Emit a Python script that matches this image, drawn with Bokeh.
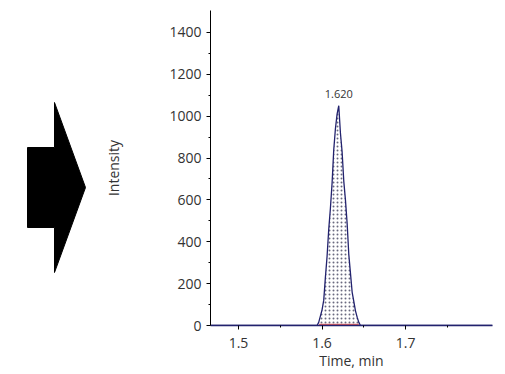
from bokeh.plotting import figure
from bokeh.layouts import row
from bokeh.models import Range1d, FixedTicker, ColumnDataSource
from bokeh.core.properties import value
from bokeh.embed import file_html
from bokeh.resources import INLINE

# chromatogram data (time in min, intensity)
times = [1.466, 1.590, 1.594, 1.596, 1.598, 1.600, 1.602, 1.604, 1.606, 1.608, 1.610,
         1.612, 1.614, 1.616, 1.618, 1.620, 1.622, 1.624, 1.626, 1.628, 1.630,
         1.632, 1.634, 1.636, 1.638, 1.640, 1.642, 1.644, 1.646, 1.650, 1.804]
intensity = [0, 0, 0, 15, 45, 75, 120, 230, 330, 460, 560,
             680, 840, 940, 1010, 1050, 920, 830, 690, 600, 490,
             340, 250, 160, 115, 70, 40, 15, 0, 0, 0]
peak_times = [1.620]
peak_heights = [1050]
peak_labels = ["1.620"]
baseline_start = [1.5965]
baseline_end = [1.6440]

x_ticks = [1.5, 1.6, 1.7]
x_minor_ticks = [1.55, 1.65, 1.75]
y_ticks = [0, 200, 400, 600, 800, 1000, 1200, 1400]
y_minor_ticks = [100, 300, 500, 700, 900, 1100, 1300]

# decorative block arrow outline (page px)
arrow_x = [27, 54, 54, 85, 54, 54, 27]
arrow_y = [147, 147, 102, 187, 272, 227, 227]

FONT = "Open Sans"

# arrow panel (frame aligned with the chart frame: page y 10..325)
a = figure(width=95, height=372, x_range=Range1d(0, 95), y_range=Range1d(325, 10),
           output_backend="svg", toolbar_location=None,
           min_border_left=0, min_border_right=0, min_border_top=10, min_border_bottom=47)
a.axis.visible = False
a.grid.visible = False
a.outline_line_color = None
a.patch(arrow_x, arrow_y, fill_color="black", line_color="black")

p = figure(width=409, height=372, x_range=Range1d(1.4665, 1.804), y_range=Range1d(0, 1505),
           output_backend="svg", toolbar_location=None,
           min_border_left=115, min_border_right=12, min_border_top=10, min_border_bottom=47)
p.outline_line_color = None
p.grid.visible = False

src = ColumnDataSource(dict(t=times, y=intensity))
peak_src = ColumnDataSource(dict(t=times[1:-1], y=intensity[1:-1]))
p.varea(x="t", y1=0, y2="y", source=peak_src, fill_color="white",
        hatch_pattern="dot", hatch_color="#6a6a80", hatch_scale=4, hatch_weight=1)
p.line(x="t", y="y", source=src, line_color="#22226e", line_width=1.3)
p.segment(x0=baseline_start, y0=[5], x1=baseline_end, y1=[5],
          line_color="#e06060", line_width=1.2)
p.text(x=peak_times, y=peak_heights, text=peak_labels, text_align="center",
       text_baseline="middle", y_offset=-12, text_font_size="11px",
       text_font=value(FONT), text_color="#333333")

p.xaxis.ticker = FixedTicker(ticks=x_ticks, minor_ticks=x_minor_ticks)
p.yaxis.ticker = FixedTicker(ticks=y_ticks, minor_ticks=y_minor_ticks)
p.xaxis.axis_label = "Time, min"
p.yaxis.axis_label = "Intensity"
for ax in (p.xaxis, p.yaxis):
    ax.axis_line_color = "#000000"
    ax.major_tick_line_color = "#000000"
    ax.minor_tick_line_color = "#000000"
    ax.major_tick_out = 4
    ax.major_tick_in = 0
    ax.minor_tick_out = 2
    ax.minor_tick_in = 0
    ax.major_label_text_font = FONT
    ax.major_label_text_font_size = "14px"
    ax.major_label_text_color = "#333333"
    ax.axis_label_text_font = FONT
    ax.axis_label_text_font_size = "14px"
    ax.axis_label_text_font_style = "normal"
    ax.axis_label_text_color = "#333333"
p.xaxis.axis_line_color = "#22226e"
p.xaxis.axis_line_width = 1.5
p.yaxis.axis_label_standoff = 43
p.xaxis.axis_label_standoff = 0
p.xaxis.major_label_standoff = 8
p.yaxis.major_label_standoff = 5

layout = row(a, p)
open("out.html", "w").write(file_html(layout, INLINE))
